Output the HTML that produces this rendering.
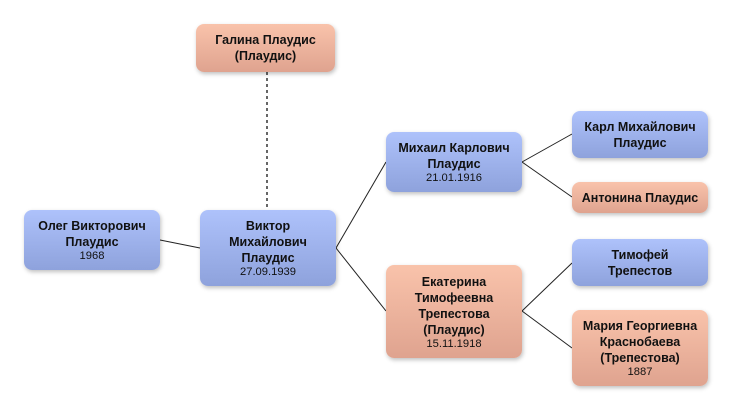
<!DOCTYPE html>
<html><head><meta charset="utf-8"><style>
body{margin:0;width:732px;height:411px;background:#fff;position:relative;overflow:hidden;font-family:"Liberation Sans","DejaVu Sans",sans-serif;}
.b{position:absolute;box-sizing:border-box;border-radius:8px;display:flex;flex-direction:column;justify-content:center;align-items:center;text-align:center;color:#111;box-shadow:1px 2px 4px rgba(0,0,0,0.25);}
.blue{background:linear-gradient(#aec2fb,#8ea2dc);}
.or{background:linear-gradient(#f9c3ab,#dfa38f);}
.n{font-weight:bold;font-size:12.5px;line-height:16px;}
.d{font-size:11.2px;line-height:12px;}
svg{position:absolute;left:0;top:0;}
</style></head><body>
<svg width="732" height="411">
<g stroke="#222" stroke-width="1" fill="none">
<line x1="160" y1="240" x2="200" y2="248"/>
<line x1="336" y1="248" x2="386" y2="162"/>
<line x1="336" y1="248" x2="386" y2="311"/>
<line x1="522" y1="162" x2="572" y2="134"/>
<line x1="522" y1="162" x2="572" y2="197"/>
<line x1="522" y1="311" x2="572" y2="263"/>
<line x1="522" y1="311" x2="572" y2="348"/>
<line x1="267" y1="72" x2="267" y2="210" stroke="#666" stroke-width="2" stroke-dasharray="3,3"/>
</g></svg>
<div class="b or" style="left:196px;top:24px;width:139px;height:48px"><div class="n">Галина Плаудис<br>(Плаудис)</div></div>
<div class="b blue" style="left:24px;top:210px;width:136px;height:60px"><div class="n">Олег Викторович<br>Плаудис</div><div class="d">1968</div></div>
<div class="b blue" style="left:200px;top:210px;width:136px;height:76px"><div class="n">Виктор<br>Михайлович<br>Плаудис</div><div class="d">27.09.1939</div></div>
<div class="b blue" style="left:386px;top:132px;width:136px;height:60px"><div class="n">Михаил Карлович<br>Плаудис</div><div class="d">21.01.1916</div></div>
<div class="b blue" style="left:572px;top:111px;width:136px;height:47px"><div class="n">Карл Михайлович<br>Плаудис</div></div>
<div class="b or" style="left:572px;top:182px;width:136px;height:31px"><div class="n">Антонина Плаудис</div></div>
<div class="b or" style="left:386px;top:265px;width:136px;height:93px"><div class="n">Екатерина<br>Тимофеевна<br>Трепестова<br>(Плаудис)</div><div class="d">15.11.1918</div></div>
<div class="b blue" style="left:572px;top:239px;width:136px;height:47px"><div class="n">Тимофей<br>Трепестов</div></div>
<div class="b or" style="left:572px;top:310px;width:136px;height:76px"><div class="n">Мария Георгиевна<br>Краснобаева<br>(Трепестова)</div><div class="d">1887</div></div>
</body></html>
